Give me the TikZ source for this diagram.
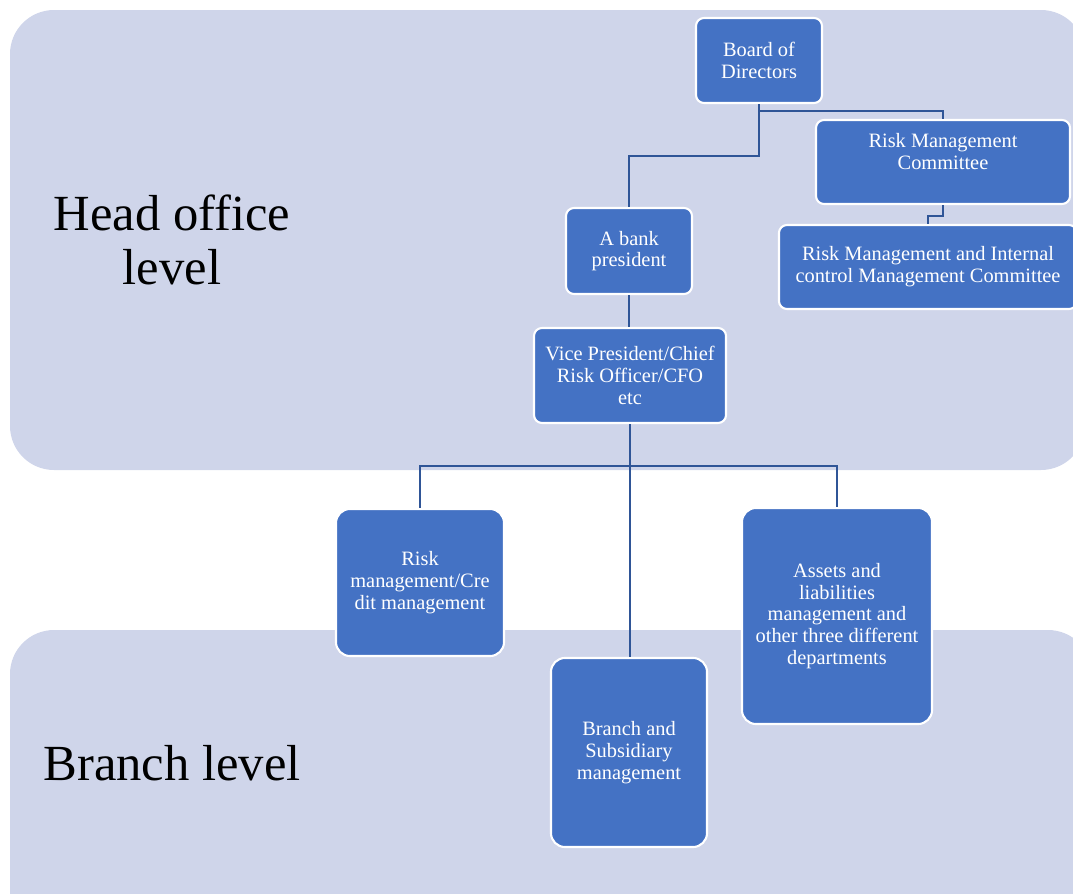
\documentclass[tikz,border=0pt]{standalone}
\usepackage{fontspec}
\setmainfont{Liberation Serif}
\usepackage{tikz}

\definecolor{panelfill}{RGB}{207,213,234}
\definecolor{boxfill}{RGB}{68,114,196}
\definecolor{linkcol}{RGB}{47,85,151}

\begin{document}
\begin{tikzpicture}[x=0.025cm,y=-0.025cm,
  panel/.style={fill=panelfill,draw=none,rounded corners=1.1cm},
  unit/.style={rectangle,rounded corners=0.2cm,fill=boxfill,draw=white,line width=1.5pt,
    text=white,align=center,inner sep=2pt,font=\fontsize{14.5}{15.5}\selectfont},
  bigunit/.style={unit,rounded corners=0.35cm},
  level/.style={align=center,font=\fontsize{36}{38}\selectfont},
  link/.style={draw=linkcol,line width=1.6pt}]

\useasboundingbox (0,0) rectangle (1073,894);

% Level panels
\begin{scope}
\clip (0,0) rectangle (1073,894);
\fill[panel] (10,10) rectangle (1085,470);
\fill[panel] (10,630) rectangle (1092,940);
\end{scope}

\node[level] (headlbl) at (172,240) {Head office\\level};
\node[level] (branchlbl) at (172,763) {Branch level};

% Head office units
\node[unit,minimum width=3.15cm,minimum height=2.125cm] (board) at (759,60.5) {Board of\\Directors};
\node[unit,minimum width=6.35cm,minimum height=2.1cm] (rmc) at (943,162) {Risk Management\\Committee\\~};
\node[unit,minimum width=7.45cm,minimum height=2.1cm] (rmic) at (928,267) {Risk Management and Internal\\control Management Committee};
\node[unit,minimum width=3.15cm,minimum height=2.15cm] (pres) at (629,251) {A bank\\president};
\node[unit,minimum width=4.8cm,minimum height=2.375cm] (vp) at (630,375.5) {Vice President/Chief\\Risk Officer/CFO\\etc};

% Departments
\node[bigunit,minimum width=4.2cm,minimum height=3.675cm] (credit) at (420,582.5) {Risk\\management/Cre\\dit management};
\node[bigunit,minimum width=3.9cm,minimum height=4.725cm] (branch) at (629,752.5) {Branch and\\Subsidiary\\management};
\node[bigunit,minimum width=4.75cm,minimum height=5.4cm] (assets) at (837,616) {Assets and\\liabilities\\management and\\other three different\\departments};

% Connectors
\draw[link] (board.south) -- ++(0,7) -| (rmc.north);
\draw[link] (board.south) -- ++(0,52) -| (pres.north);
\draw[link] (rmc.south) -- ++(0,11) -| (rmic.north);
\draw[link] (pres.south) -- (pres.south |- vp.north);
\draw[link] (vp.south) -- ++(0,42) coordinate (fork);
\draw[link] (fork) -| (credit.north);
\draw[link] (fork) -| (assets.north);
\draw[link] (vp.south) -- (vp.south |- branch.north);

\end{tikzpicture}
\end{document}
